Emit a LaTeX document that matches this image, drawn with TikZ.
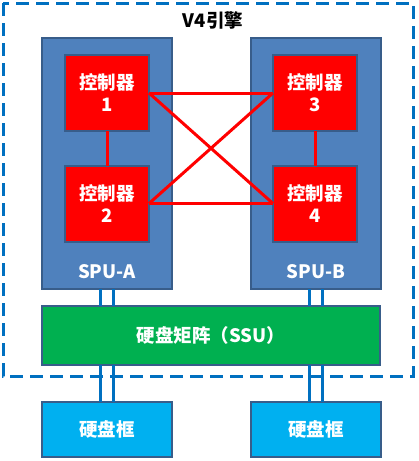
\documentclass[tikz,border=0pt]{standalone}
\usepackage{fontspec}
\setmainfont{Noto Sans CJK SC}
\definecolor{spublue}{HTML}{4F81BD}
\definecolor{boxedge}{HTML}{385D8A}
\definecolor{ctrlred}{HTML}{FF0000}
\definecolor{ssugreen}{HTML}{00B050}
\definecolor{diskblue}{HTML}{00B0F0}
\definecolor{dashblue}{HTML}{0070C0}
\begin{document}
\begin{tikzpicture}[x=1pt,y=-1pt,
  every node/.style={font=\bfseries\fontsize{18.5}{22}\selectfont, text=white, inner sep=0pt, outer sep=0pt},
  spubox/.style={draw=boxedge, fill=spublue, line width=2pt, minimum width=130pt, minimum height=251pt},
  ctrlbox/.style={draw=boxedge, fill=ctrlred, line width=2pt, minimum width=84pt, minimum height=76pt, align=center},
  ssubox/.style={draw=boxedge, fill=ssugreen, line width=2pt, minimum width=338pt, minimum height=59pt},
  diskbox/.style={draw=boxedge, fill=diskblue, line width=2pt, minimum width=130pt, minimum height=55pt},
  link/.style={draw=ctrlred, line width=3pt},
  dlink/.style={draw=dashblue, line width=2.6pt},
  engine/.style={draw=dashblue, line width=3pt, dash pattern=on 13pt off 7pt}
]
\useasboundingbox (0,0) rectangle (419,461);
% outer dashed engine frame
\draw[engine] (3,3) rectangle (413,376);
\node[text=black] (title) at (213,20) {V4引擎};
% SPU boxes
\node[spubox] (spua) at (107,163.5) {};
\node[spubox] (spub) at (316,163.5) {};
\node (laba) at (107,272) {SPU-A};
\node (labb) at (316,272) {SPU-B};
% controllers
\node[ctrlbox] (c1) at (107,93) {控制器\\1};
\node[ctrlbox] (c2) at (107,203.5) {控制器\\2};
\node[ctrlbox] (c3) at (315,93) {控制器\\3};
\node[ctrlbox] (c4) at (315,203.5) {控制器\\4};
% controller links
\draw[link] (c1.south) -- (c2.north);
\draw[link] (c3.south) -- (c4.north);
\draw[link] (c1.east) -- (c3.west);
\draw[link] (c2.east) -- (c4.west);
\draw[link] (c1.east) -- (c4.west);
\draw[link] (c2.east) -- (c3.west);
% SSU
\node[ssubox] (ssu) at (211,335.5) {硬盘矩阵（SSU）};
% disk enclosures
\node[diskbox] (da) at (107,429.5) {硬盘框};
\node[diskbox] (db) at (316,429.5) {硬盘框};
% double links
\foreach \s/\d in {spua/ssu, spub/ssu}{
  \draw[dlink] ([xshift=-6.5pt]\s.south) -- ([xshift=-6.5pt]\s.south |- \d.north);
  \draw[dlink] ([xshift=6.5pt]\s.south) -- ([xshift=6.5pt]\s.south |- \d.north);
}
\foreach \s/\d in {da/ssu, db/ssu}{
  \draw[dlink] ([xshift=-6.5pt]\s.north) -- ([xshift=-6.5pt]\s.north |- \d.south);
  \draw[dlink] ([xshift=6.5pt]\s.north) -- ([xshift=6.5pt]\s.north |- \d.south);
}
\end{tikzpicture}
\end{document}
